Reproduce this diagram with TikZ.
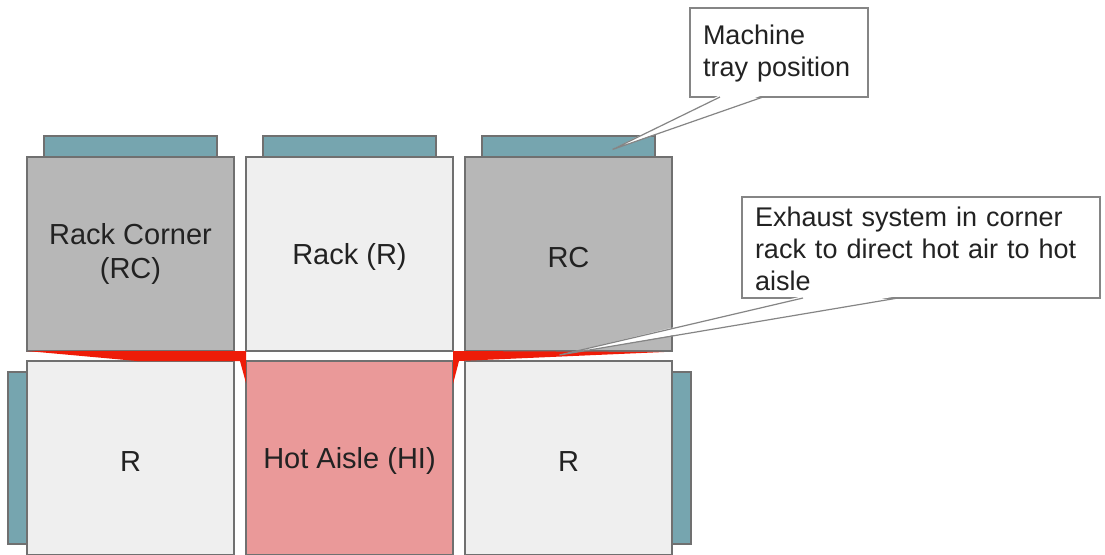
\documentclass[tikz,border=0pt]{standalone}
\usepackage{fontspec}
\setmainfont{Liberation Sans}
\usetikzlibrary{calc,positioning}
\definecolor{rackdark}{HTML}{B7B7B7}
\definecolor{racklight}{HTML}{EFEFEF}
\definecolor{traycol}{HTML}{76A5AF}
\definecolor{aislecol}{HTML}{EA9999}
\definecolor{exhaustcol}{HTML}{EE1C08}
\definecolor{edgecol}{HTML}{707070}
\definecolor{inkcol}{HTML}{222222}
\tikzset{rack/.style = {rectangle, draw=edgecol, line width=0.7pt, fill=racklight, minimum width=103.5pt, minimum height=97pt, inner sep=0pt, outer sep=0pt, align=center, text=inkcol, font=\fontsize{14.5}{17}\selectfont, execute at begin node={\rule{0pt}{13.5pt}}},
        corner/.style = {rack, fill=rackdark},
        hot/.style = {rack, fill=aislecol},
    toptray/.style = {rectangle, draw=edgecol, line width=0.7pt, fill=traycol, minimum width=86.5pt, minimum height=10.5pt, inner sep=0pt, outer sep=0pt},
        sidetray/.style = {toptray, minimum width=9.5pt, minimum height=86pt},
    note/.style = {rectangle, draw=edgecol!85, line width=0.6pt, fill=white, inner xsep=6.5pt, inner ysep=0pt, outer sep=0pt, align=left, anchor=north west, text=inkcol, font=\fontsize{13.5}{16}\selectfont, execute at begin node={\rule{0pt}{11pt}}},
    tail/.style = {draw=edgecol!85, line width=0.6pt}
}

\begin{document}
\begin{tikzpicture}[x=0.5pt,y=-0.5pt]
 \useasboundingbox (0,0) rectangle (1105,554);
 % racks
    \node[corner] (rc1) at (130.5,254) {Rack Corner\\(RC)};
    \node[rack, right=6pt of rc1] (r1) {Rack (R)};
    \node[corner, right=6pt of r1] (rc2) {RC};
    \node[rack, below=5pt of rc1] (r2) {R};
    \node[hot, right=6pt of r2] (hi) {Hot Aisle (HI)};
    \node[rack, right=6pt of hi] (r3) {R};
 % machine trays
    \node[toptray, above=0pt of rc1] (tray1) {};
    \node[toptray, above=0pt of r1] (tray2) {};
    \node[toptray, above=0pt of rc2] (tray3) {};
    \node[sidetray, left=0pt of r2] (tray4) {};
    \node[sidetray, right=0pt of r3] (tray5) {};
 % exhaust
    \fill[exhaustcol] (rc1.south west) -- (rc1.south -| hi.west) -- ($(hi.north west)+(0,22)$) -- ($(r2.north east)+(6,0)$) -- ($(r2.north west)+(110,0)$) -- cycle;
    \fill[exhaustcol] (rc2.south -| r1.east) -- ($(rc2.south east)+(-8,1)$) -- ($(r3.north west)+(-6,0)$) -- ($(hi.north east)+(0,23)$) -- cycle;
 % callouts
    \node[note, text width=76pt, minimum height=44.5pt] (traynote) at (690,8) {Machine\\tray position};
    \node[note, text width=166pt, minimum height=50.5pt] (exhaustnote) at (742,197) {Exhaust system in corner\\rack to direct hot air to hot\\aisle};
    \coordinate (traytip) at ($(tray3.center)+(44,3)$);
    \coordinate (exhausttip) at ($(rc2.south)+(-9,4)$);
    \fill[white] ($(traynote.south west)+(30,-2)$) -- (traytip) -- ($(traynote.south west)+(73,-2)$) -- cycle;
    \draw[tail] ($(traynote.south west)+(30,0)$) -- (traytip) -- ($(traynote.south west)+(73,0)$);
    \fill[white] ($(exhaustnote.south west)+(61,-2)$) -- (exhausttip) -- ($(exhaustnote.south west)+(156,-2)$) -- cycle;
    \draw[tail] ($(exhaustnote.south west)+(61,0)$) -- (exhausttip) -- ($(exhaustnote.south west)+(156,0)$);
\end{tikzpicture}
\end{document}
